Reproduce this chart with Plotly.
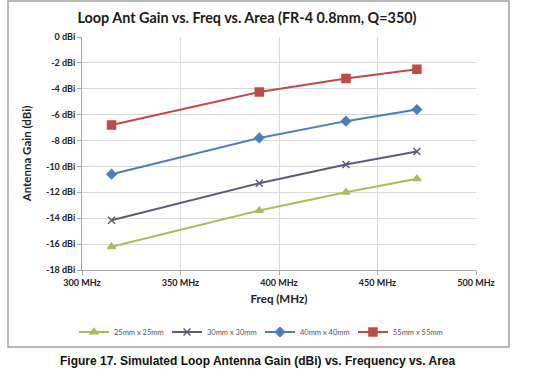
import plotly.graph_objects as go

freq_mhz = [315, 390, 434, 470]
series_names = ["25mm x 25mm", "30mm x 30mm", "40mm x 40mm", "55mm x 55mm"]
gain_25 = [-16.2, -13.4, -12.0, -10.95]
gain_30 = [-14.15, -11.3, -9.85, -8.85]
gain_40 = [-10.6, -7.8, -6.5, -5.6]
gain_55 = [-6.8, -4.25, -3.2, -2.5]

x_ticks = [300, 350, 400, 450, 500]
x_tick_labels = ["300 MHz", "350 MHz", "400 MHz", "450 MHz", "500 MHz"]
y_ticks = [0, -2, -4, -6, -8, -10, -12, -14, -16, -18]
y_tick_labels = ["0 dBi", "-2 dBi", "-4 dBi", "-6 dBi", "-8 dBi", "-10 dBi",
                 "-12 dBi", "-14 dBi", "-16 dBi", "-18 dBi"]

styles = [
    dict(color="#A9BD5B", symbol="triangle-up", size=7),
    dict(color="#5C5C7A", symbol="x-thin", size=7),
    dict(color="#4A7EBB", symbol="diamond", size=7),
    dict(color="#BE4B48", symbol="square", size=8),
]

fig = go.Figure()
for name, vals, st in zip(series_names, [gain_25, gain_30, gain_40, gain_55], styles):
    fig.add_trace(go.Scatter(
        x=freq_mhz, y=vals, name=name, mode="lines+markers",
        line=dict(color=st["color"], width=2),
        marker=dict(color=st["color"], symbol=st["symbol"], size=st["size"],
                    line=dict(color=st["color"], width=1.5)),
    ))

font_family = "Lato, Carlito, Calibri, sans-serif"

fig.update_layout(
    width=540, height=379,
    margin=dict(l=82, r=64, t=37, b=109, autoexpand=False),
    paper_bgcolor="white", plot_bgcolor="white",
    font=dict(family=font_family, color="#222"),
    title=dict(text="<b>Loop Ant Gain vs. Freq vs. Area (FR-4 0.8mm, Q=350)</b>",
               x=247/540, xanchor="center", y=1 - 18/379, yanchor="middle",
               font=dict(size=14.4, family=font_family, color="#1a1a1a")),
    xaxis=dict(range=[300, 500], tickvals=x_ticks,
               ticktext=["<b>%s</b>" % t for t in x_tick_labels],
               showgrid=True, gridcolor="#D9D9D9", gridwidth=1,
               showline=True, linecolor="#A6A6A6", linewidth=1,
               ticks="outside", ticklen=4, tickcolor="#A6A6A6",
               tickfont=dict(size=9, family=font_family, color="#222"),
               title=dict(text="<b>Freq (MHz)</b>", font=dict(size=11.5), standoff=8),
               zeroline=False),
    yaxis=dict(range=[-18, 0], tickvals=y_ticks,
               ticktext=["<b>%s</b>" % t for t in y_tick_labels],
               showgrid=True, gridcolor="#D9D9D9", gridwidth=1,
               showline=True, linecolor="#A6A6A6", linewidth=1,
               ticks="outside", ticklen=4, tickcolor="#A6A6A6",
               tickfont=dict(size=9, family=font_family, color="#222"),
               title=dict(text="<b>Antenna Gain (dBi)</b>", font=dict(size=11.5), standoff=12),
               zeroline=False),
    legend=dict(orientation="h", xref="container", yref="container",
                x=260/540, xanchor="center", y=1 - 332/379, yanchor="middle",
                font=dict(size=7.5, family=font_family, color="#555"),
                itemwidth=30, entrywidth=48, entrywidthmode="pixels",
                tracegroupgap=0, bgcolor="rgba(0,0,0,0)"),
    showlegend=True,
)

# chart frame
fig.add_shape(type="rect", xref="paper", yref="paper",
              x0=(8 - 82) / 394, x1=(509 - 82) / 394,
              y0=(270 - 347) / 233, y1=(270 - 1) / 233,
              line=dict(color="#A0A0A0", width=1.5), layer="below")

fig.add_annotation(
    text="<b>Figure 17. Simulated Loop Antenna Gain (dBi) vs. Frequency vs. Area</b>",
    xref="paper", yref="paper", x=(58 - 82) / 394, xanchor="left",
    y=(270 - 361) / 233, yanchor="middle", showarrow=False,
    font=dict(family="Liberation Sans, Arial, sans-serif", size=12, color="#111"))

fig.write_html("out.html", config={"displayModeBar": False},
               post_script="document.body.style.margin='0px';")
